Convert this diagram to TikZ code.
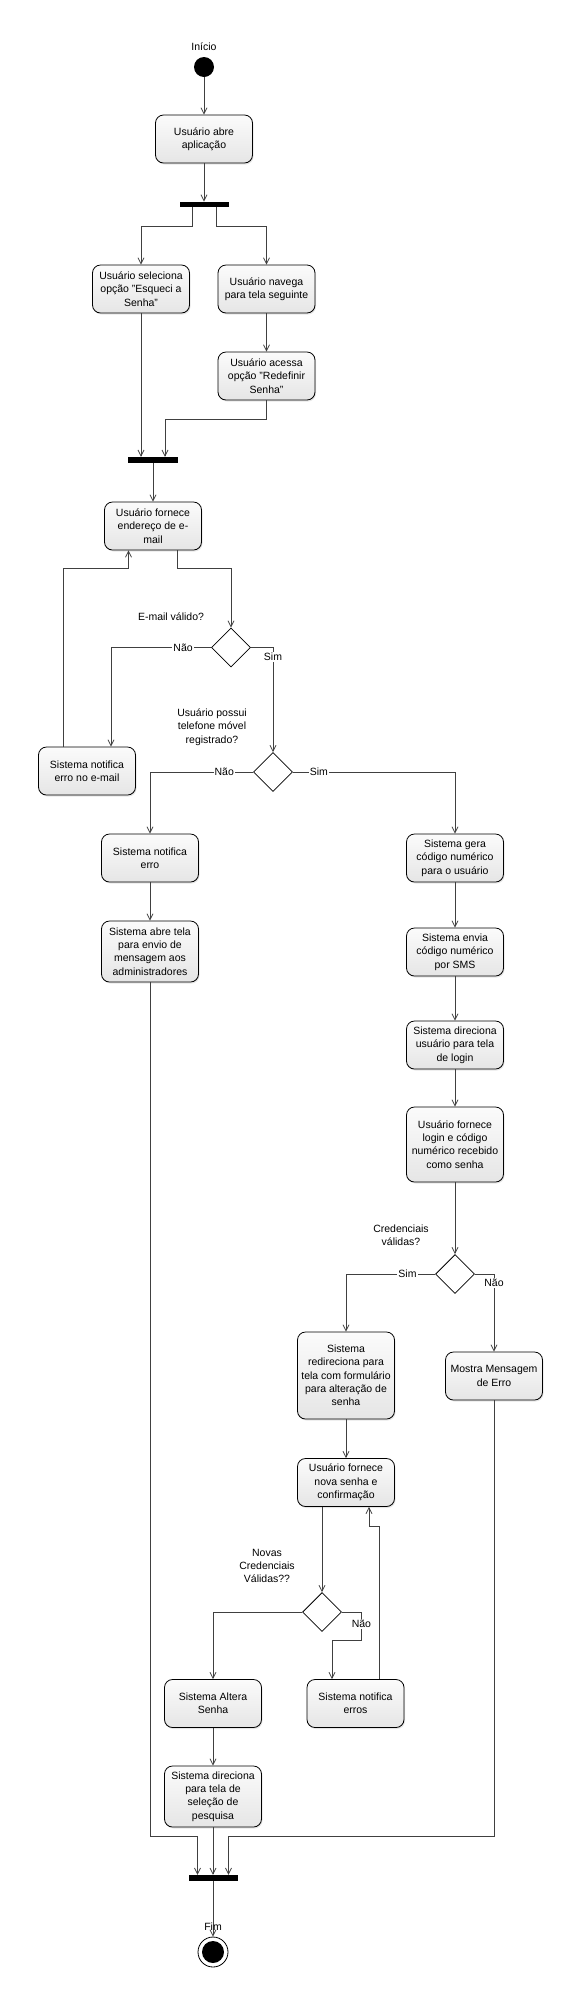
\documentclass[tikz,border=0pt]{standalone}
\usepackage{fontspec}
\setmainfont{Liberation Sans}
\usetikzlibrary{calc,shapes.geometric,arrows.meta,shadows}

\begin{document}
\begin{tikzpicture}[x=1pt,y=-1pt,
  >={Straight Barb[length=6pt,width=6pt]},
  flow/.style={->,draw=black!75,line width=0.8pt},
  act/.style={draw,rounded corners=8pt,top color=gray!3,bottom color=gray!20,
    minimum width=97pt,minimum height=48pt,inner sep=1pt,align=center,
    font=\fontsize{10.5}{13.3}\selectfont,line width=0.8pt,
    drop shadow={opacity=0.2,shadow xshift=1pt,shadow yshift=-1.5pt}},
  bar/.style={fill=black,minimum width=49pt,minimum height=5.5pt,inner sep=0pt},
  choice/.style={diamond,draw,line width=0.8pt,fill=white,minimum size=39pt,inner sep=0pt},
  guard/.style={fill=white,inner sep=1pt,font=\fontsize{10.5}{12}\selectfont},
  note/.style={align=center,inner sep=1pt,font=\fontsize{10.5}{13.3}\selectfont}]

  \useasboundingbox (0,0) rectangle (581,2006);

  \node[circle,fill=black,minimum size=20pt,inner sep=0pt] (start) at (204,67) {};
  \node[note] (inicio) at (204,47) {Início};
  \node[act] (abre) at (204,139) {Usuário abre\\aplicação};
  \node[bar] (fork1) at (204,204.5) {};
  \node[act] (seleciona) at (141,289) {Usuário seleciona\\opção "Esqueci a\\Senha"};
  \node[act] (navega) at (266.5,289) {Usuário navega\\para tela seguinte};
  \node[act] (redefinir) at (266.5,376) {Usuário acessa\\opção "Redefinir\\Senha"};
  \node[bar,minimum width=50pt,minimum height=6pt] (join1) at (153,460) {};

  \node[act] (email) at (153,526) {Usuário fornece\\endereço de e-\\mail};
  \node[choice] (valido) at (231,647.5) {};
  \node[note] (qvalido) at (171,617) {E-mail válido?};
  \node[act] (erromail) at (87,771) {Sistema notifica\\erro no e-mail};
  \node[choice] (celular) at (273,772) {};
  \node[note] (qcelular) at (212,727) {Usuário possui\\telefone móvel\\registrado?};

  \node[act] (erro) at (150,858) {Sistema notifica\\erro};
  \node[act,minimum height=61pt] (admin) at (150,951.5) {Sistema abre tela\\para envio de\\mensagem aos\\administradores};

  \node[act] (gera) at (455,858) {Sistema gera\\código numérico\\para o usuário};
  \node[act] (sms) at (455,952) {Sistema envia\\código numérico\\por SMS};
  \node[act] (login) at (455,1045) {Sistema direciona\\usuário para tela\\de login};
  \node[act,minimum height=75pt] (senha) at (455,1144.5) {Usuário fornece\\login e código\\numérico recebido\\como senha};
  \node[choice] (cred) at (455,1274) {};
  \node[note] (qcred) at (401,1235.5) {Credenciais\\válidas?};

  \node[act,minimum height=87pt] (form) at (346,1375.5) {Sistema\\redireciona para\\tela com formulário\\para alteração de\\senha};
  \node[act] (msgerro) at (494,1376) {Mostra Mensagem\\de Erro};
  \node[act] (nova) at (346,1482.5) {Usuário fornece\\nova senha e\\confirmação};
  \node[choice] (novacred) at (322,1612) {};
  \node[note] (qnovacred) at (267,1566) {Novas\\Credenciais\\Válidas??};
  \node[act] (altera) at (213,1703.5) {Sistema Altera\\Senha};
  \node[act] (erros) at (355.5,1703.5) {Sistema notifica\\erros};
  \node[act,minimum height=61pt] (pesquisa) at (213,1796.5) {Sistema direciona\\para tela de\\seleção de\\pesquisa};

  \node[bar,minimum height=6pt] (join2) at (213,1878) {};
  \node[circle,draw,line width=0.8pt,minimum size=30pt,inner sep=0pt,
    path picture={\fill (path picture bounding box.center) circle (11pt);}] (fim) at (213,1952) {};

  \foreach \a/\b in {start/abre,abre/fork1,navega/redefinir,join1/email,erro/admin,
    gera/sms,sms/login,login/senha,senha/cred,form/nova,altera/pesquisa,pesquisa/join2,join2/fim}
    \draw[flow] (\a) -- (\b);
  \node[note] (fimtxt) at (213,1927) {Fim};

  % fork and join
  \draw[flow] ([xshift=-12pt]fork1.south) -- ++(0,19) -| (seleciona.north);
  \draw[flow] ([xshift=12pt]fork1.south) -- ++(0,19) -| (navega.north);
  \draw[flow] (seleciona.south) -- (seleciona.south |- join1.north);
  \draw[flow] (redefinir.south) -- ++(0,19) -| ([xshift=12pt]join1.north);

  % e-mail
  \draw[flow] ([xshift=24pt]email.south) -- ++(0,18) -| (valido.north);
  \draw[flow] (valido.west) -- node[guard,pos=0.28] (naovalido) {Não}
    ([xshift=24pt]erromail.north |- valido.west) -- ([xshift=24pt]erromail.north);
  \draw[flow] (valido.east) -| node[guard,pos=0.545] (simvalido) {Sim} (celular.north);
  \draw[flow] ([xshift=-24pt]erromail.north) |- ([xshift=-24.5pt,yshift=-18pt]email.south)
    -- ([xshift=-24.5pt]email.south);

  % telefone
  \draw[flow] (celular.west) -- node[guard,pos=0.28] (naocelular) {Não}
    (celular.west -| erro.north) -- (erro.north);
  \draw[flow] (celular.east) -- node[guard,pos=0.16] (simcelular) {Sim}
    (celular.east -| gera.north) -- (gera.north);
  \draw[flow] (admin.south) |- ([xshift=-15.5pt,yshift=38pt]join2.north) -- ([xshift=-15.5pt]join2.north);

  % credenciais
  \draw[flow] (cred.west) -- node[guard,pos=0.31] (simcred) {Sim}
    (cred.west -| form.north) -- (form.north);
  \draw[flow] (cred.east) -| node[guard,pos=0.5575] (naocred) {Não} (msgerro.north);
  \draw[flow] (msgerro.south) |- ([xshift=15.5pt,yshift=38pt]join2.north) -- ([xshift=15.5pt]join2.north);

  % novas credenciais
  \draw[flow] (nova.south -| novacred.north) -- (novacred.north);
  \draw[flow] (novacred.west) -| (altera.north);
  \draw[flow] (novacred.east) -- ++(19.5,0) -- node[guard,pos=0.43] (naonovacred) {Não} ++(0,28)
    -| ([xshift=-23.5pt]erros.north);
  \draw[flow] ([xshift=23.5pt]erros.north) |- ([xshift=23pt,yshift=-19pt]nova.south)
    -- ([xshift=23pt]nova.south);

\end{tikzpicture}
\end{document}
